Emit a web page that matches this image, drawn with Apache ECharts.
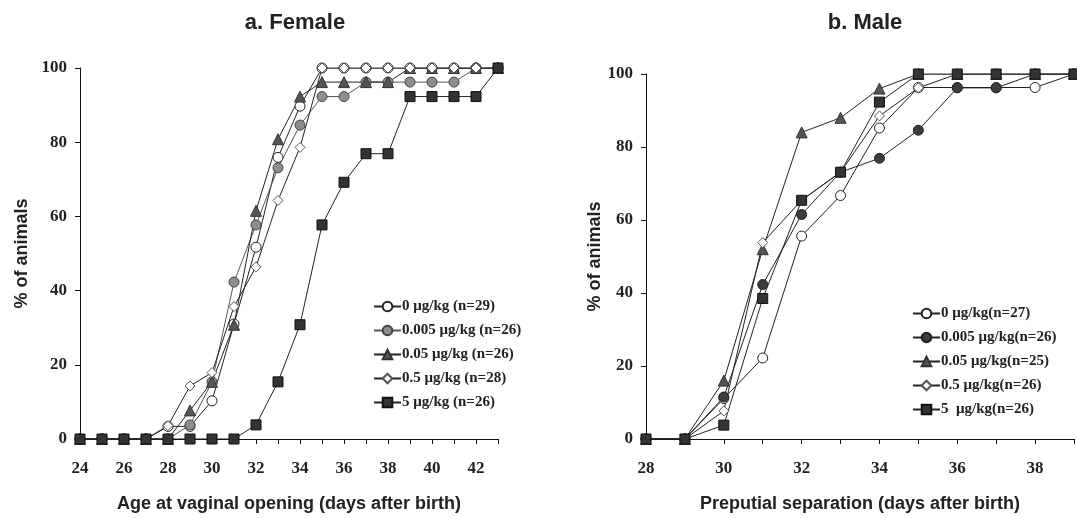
<!DOCTYPE html>
<html>
<head>
<meta charset="utf-8">
<script src="https://cdn.jsdelivr.net/npm/echarts@6/dist/echarts.min.js"></script>
<style>
  html, body { margin: 0; padding: 0; background: #fff; }
  #main { width: 1077px; height: 518px; }
</style>
</head>
<body>
<div id="main"></div>
<script>
// a. Female - days after birth
var femaleDays = [24, 25, 26, 27, 28, 29, 30, 31, 32, 33, 34, 35, 36, 37, 38, 39, 40, 41, 42, 43];
var femaleNames = ['0 μg/kg (n=29)', '0.005 μg/kg (n=26)', '0.05 μg/kg (n=26)', '0.5 μg/kg (n=28)', '5 μg/kg (n=26)'];
var femaleDose0    = [0, 0, 0, 0, 3.4, 3.4, 10.3, 31.0, 51.7, 75.9, 89.7, 100, 100, 100, 100, 100, 100, 100, 100, 100];
var femaleDose0005 = [0, 0, 0, 0, 0, 3.8, 15.4, 42.3, 57.7, 73.1, 84.6, 92.3, 92.3, 96.2, 96.2, 96.2, 96.2, 96.2, 100, 100];
var femaleDose005  = [0, 0, 0, 0, 0, 7.7, 15.4, 30.8, 61.5, 80.8, 92.3, 96.2, 96.2, 96.2, 96.2, 100, 100, 100, 100, 100];
var femaleDose05   = [0, 0, 0, 0, 3.6, 14.3, 17.9, 35.7, 46.4, 64.3, 78.6, 100, 100, 100, 100, 100, 100, 100, 100, 100];
var femaleDose5    = [0, 0, 0, 0, 0, 0, 0, 0, 3.8, 15.4, 30.8, 57.7, 69.2, 76.9, 76.9, 92.3, 92.3, 92.3, 92.3, 100];

// b. Male
var maleDays = [28, 29, 30, 31, 32, 33, 34, 35, 36, 37, 38, 39];
var maleNames = ['0 μg/kg(n=27)', '0.005 μg/kg(n=26)', '0.05 μg/kg(n=25)', '0.5 μg/kg(n=26)', '5  μg/kg(n=26)'];
var maleDose0    = [0, 0, 11.1, 22.2, 55.6, 66.7, 85.2, 96.3, 96.3, 96.3, 96.3, 100];
var maleDose0005 = [0, 0, 11.5, 42.3, 61.5, 73.1, 76.9, 84.6, 96.2, 96.2, 100, 100];
var maleDose005  = [0, 0, 16, 52, 84, 88, 96, 100, 100, 100, 100, 100];
var maleDose05   = [0, 0, 7.7, 53.8, 65.4, 73.1, 88.5, 96.2, 100, 100, 100, 100];
var maleDose5    = [0, 0, 3.8, 38.5, 65.4, 73.1, 92.3, 100, 100, 100, 100, 100];

var yTicks = [0, 20, 40, 60, 80, 100];

function zip(xs, ys) {
    return xs.map(function (x, i) { return [x, ys[i]]; });
}

var serif = '"Liberation Serif", "DejaVu Serif", serif';
var sans = '"Liberation Sans", Arial, sans-serif';

// marker styles: open circle, grey circle, triangle, diamond, square
var markers = [
    { symbol: 'circle', size: 10, fill: '#ffffff', border: '#222' },
    { symbol: 'circle', size: 10, fill: '#8e8e8e', border: '#444' },
    { symbol: 'triangle', size: 11, fill: '#555555', border: '#333' },
    { symbol: 'diamond', size: 10, fill: '#ffffff', border: '#555' },
    { symbol: 'rect', size: 10, fill: '#333333', border: '#111' }
];

function makeSeries(name, idx, days, values, mk, lineColor) {
    return {
        name: name,
        type: 'line',
        xAxisIndex: idx,
        yAxisIndex: idx,
        data: zip(days, values),
        symbol: mk.symbol,
        symbolSize: mk.size,
        showAllSymbol: true,
        animation: false,
        lineStyle: { color: lineColor || '#222', width: 1 },
        itemStyle: { color: mk.fill, borderColor: mk.border, borderWidth: 1 }
    };
}

var maleMarkers = markers.slice();
maleMarkers[1] = { symbol: 'circle', size: 10, fill: '#3c3c3c', border: '#222' };

var femaleSets = [femaleDose0, femaleDose0005, femaleDose005, femaleDose05, femaleDose5];
var maleSets = [maleDose0, maleDose0005, maleDose005, maleDose05, maleDose5];

var series = [];
femaleSets.forEach(function (vals, i) {
    series.push(makeSeries(femaleNames[i], 0, femaleDays, vals, markers[i], i === 1 ? '#555' : '#222'));
});
maleSets.forEach(function (vals, i) {
    series.push(makeSeries(maleNames[i], 1, maleDays, vals, maleMarkers[i]));
});

function xAxisCfg(idx, min, max, title, gap) {
    return {
        type: 'value',
        gridIndex: idx,
        min: min,
        max: max,
        interval: 1,
        splitLine: { show: false },
        axisLine: { lineStyle: { color: '#111', width: 1 } },
        axisTick: { length: 5, lineStyle: { color: '#111' } },
        axisLabel: {
            margin: 21,
            fontFamily: serif,
            fontWeight: 'bold',
            fontSize: 17,
            color: '#222',
            formatter: function (v) { return v % 2 === 0 ? String(v) : ''; }
        },
        name: title,
        nameLocation: 'middle',
        nameGap: 56,
        nameTextStyle: { fontFamily: sans, fontWeight: 'bold', fontSize: 18, color: '#222' }
    };
}

function yAxisCfg(idx, gap) {
    return {
        type: 'value',
        gridIndex: idx,
        min: 0,
        max: 100,
        interval: 20,
        splitLine: { show: false },
        axisLine: { show: true, lineStyle: { color: '#111', width: 1 } },
        axisTick: { show: true, length: 5, lineStyle: { color: '#111' } },
        axisLabel: {
            margin: 13,
            fontFamily: serif,
            fontWeight: 'bold',
            fontSize: 17,
            color: '#222',
            formatter: function (v) { return yTicks.indexOf(v) >= 0 ? String(v) : ''; }
        },
        name: '% of animals',
        nameLocation: 'middle',
        nameGap: gap,
        nameTextStyle: { fontFamily: sans, fontWeight: 'bold', fontSize: 18, color: '#222' }
    };
}

function legendCfg(names, left, top, gap) {
    return {
        data: names,
        orient: 'vertical',
        left: left,
        top: top,
        itemWidth: 27,
        itemHeight: 12,
        itemGap: gap,
        textStyle: { fontFamily: serif, fontWeight: 'bold', fontSize: 15, color: '#222', padding: [0, 0, 0, -4] }
    };
}

var chart = echarts.init(document.getElementById('main'));
chart.setOption({
    backgroundColor: '#fff',
    animation: false,
    title: [
        { text: 'a. Female', left: 290, top: 7, textAlign: 'center',
          textStyle: { fontFamily: sans, fontWeight: 'bold', fontSize: 22, color: '#222' } },
        { text: 'b. Male', left: 860, top: 7, textAlign: 'center',
          textStyle: { fontFamily: sans, fontWeight: 'bold', fontSize: 22, color: '#222' } }
    ],
    grid: [
        { left: 80, top: 68, width: 418, height: 372 },
        { left: 646, top: 74, width: 429, height: 365 }
    ],
    xAxis: [
        xAxisCfg(0, 24, 43, 'Age at vaginal opening (days after birth)'),
        xAxisCfg(1, 28, 39, 'Preputial separation (days after birth)')
    ],
    yAxis: [yAxisCfg(0, 49), yAxisCfg(1, 40)],
    legend: [
        legendCfg(femaleNames, 368, 294, 9),
        legendCfg(maleNames, 907, 301, 9)
    ],
    series: series
});
</script>
</body>
</html>
